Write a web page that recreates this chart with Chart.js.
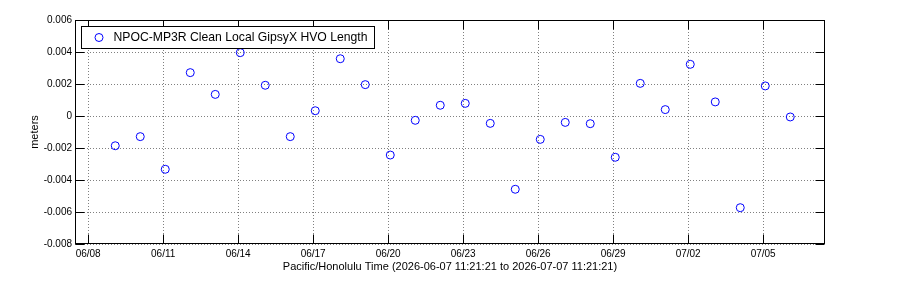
<!DOCTYPE html>
<html>
<head>
<meta charset="utf-8">
<script src="https://cdn.jsdelivr.net/npm/chart.js@4/dist/chart.umd.min.js"></script>
<style>
html,body{margin:0;padding:0;background:#fff;}
#wrap{width:900px;height:300px;position:relative;}
</style>
</head>
<body>
<div id="wrap"><canvas id="c" width="900" height="300"></canvas></div>
<script>
// ---- data ----
const seriesLabel = 'NPOC-MP3R Clean Local GipsyX HVO Length';
const sampleTimes = [
  '2026-06-09 02:00','2026-06-10 02:00','2026-06-11 02:00','2026-06-12 02:00','2026-06-13 02:00',
  '2026-06-14 02:00','2026-06-15 02:00','2026-06-16 02:00','2026-06-17 02:00','2026-06-18 02:00',
  '2026-06-19 02:00','2026-06-20 02:00','2026-06-21 02:00','2026-06-22 02:00','2026-06-23 02:00',
  '2026-06-24 02:00','2026-06-25 02:00','2026-06-26 02:00','2026-06-27 02:00','2026-06-28 02:00',
  '2026-06-29 02:00','2026-06-30 02:00','2026-07-01 02:00','2026-07-02 02:00','2026-07-03 02:00',
  '2026-07-04 02:00','2026-07-05 02:00','2026-07-06 02:00'
];
const lengthValues = [
  -0.00186, -0.00129, -0.00333, 0.00271, 0.00135, 0.00396, 0.00192, -0.00129, 0.00033, 0.00358,
  0.00196, -0.00244, -0.00027, 0.00067, 0.00079, -0.00046, -0.00458, -0.00146, -0.00040, -0.00048,
  -0.00258, 0.00204, 0.00040, 0.00323, 0.00088, -0.00573, 0.00188, -0.00006
];
const xTickLabels = ['06/08','06/11','06/14','06/17','06/20','06/23','06/26','06/29','07/02','07/05'];
const tickYear = 2026;
const rangeStart = '2026-06-07 11:21:21';
const rangeEnd = '2026-07-07 11:21:21';
const yMin = -0.008, yMax = 0.006, yStep = 0.002;
const yTitle = 'meters';
const xTitle = 'Pacific/Honolulu Time (2026-06-07 11:21:21 to 2026-07-07 11:21:21)';

// ---- helpers ----
function toDays(s){
  const m = s.match(/(\d+)-(\d+)-(\d+)(?:\s+(\d+):(\d+)(?::(\d+))?)?/);
  return Date.UTC(+m[1], +m[2]-1, +m[3], +(m[4]||0), +(m[5]||0), +(m[6]||0)) / 86400000;
}
const xTickValues = xTickLabels.map(l => {
  const [mm, dd] = l.split('/');
  return toDays(tickYear + '-' + mm + '-' + dd);
});
const points = sampleTimes.map((t, i) => ({x: toDays(t), y: lengthValues[i]}));

const FONT = '"Liberation Sans", Arial, Helvetica, sans-serif';

const framePlugin = {
  id: 'frame',
  afterDatasetsDraw(chart){
    const ctx = chart.ctx, a = chart.chartArea;
    const xs = chart.scales.x, ys = chart.scales.y;
    const L = Math.round(a.left)+0.5, R = Math.round(a.right)-0.5, T = Math.round(a.top)+0.5, B = Math.round(a.bottom)-0.5;
    ctx.save();
    ctx.strokeStyle = '#000';
    ctx.lineWidth = 1;
    ctx.setLineDash([]);
    const tl = 9;
    ctx.beginPath();
    xs.ticks.forEach(t => {
      const px = Math.round(xs.getPixelForValue(t.value))+0.5;
      ctx.moveTo(px, B); ctx.lineTo(px, B - tl);
      ctx.moveTo(px, T); ctx.lineTo(px, T + tl);
    });
    ys.ticks.forEach(t => {
      const py = Math.round(ys.getPixelForValue(t.value))+0.5;
      ctx.moveTo(L, py); ctx.lineTo(L + tl, py);
      ctx.moveTo(R, py); ctx.lineTo(R - tl, py);
    });
    ctx.stroke();
    ctx.strokeRect(L, T, R - L, B - T);

    // legend box inside plot
    ctx.font = '12.2px ' + FONT;
    const tw = ctx.measureText(seriesLabel).width;
    const bx = Math.round(a.left) + 6.5, by = Math.round(a.top) + 6.5;
    const bw = Math.round(32 + tw + 7), bh = 22;
    ctx.fillStyle = '#fff';
    ctx.fillRect(bx, by, bw, bh);
    ctx.strokeStyle = '#000';
    ctx.strokeRect(bx, by, bw, bh);
    ctx.beginPath();
    ctx.strokeStyle = '#0000ff';
    ctx.arc(bx + 17.5, by + 11, 4, 0, Math.PI*2);
    ctx.stroke();
    ctx.fillStyle = '#000';
    ctx.textBaseline = 'middle';
    ctx.textAlign = 'left';
    ctx.fillText(seriesLabel, bx + 32, by + 11.5);
    ctx.restore();
  }
};

new Chart(document.getElementById('c'), {
  type: 'scatter',
  data: {
    datasets: [{
      label: seriesLabel,
      data: points,
      showLine: false,
      pointStyle: 'circle',
      pointRadius: 4,
      pointHoverRadius: 4,
      borderWidth: 1,
      borderColor: '#0000ff',
      backgroundColor: 'rgba(0,0,0,0)'
    }]
  },
  options: {
    responsive: false,
    animation: false,
    devicePixelRatio: 1,
    layout: { padding: { left: 0, top: 20, right: 75, bottom: 0 } },
    plugins: { legend: { display: false }, tooltip: { enabled: false } },
    scales: {
      x: {
        type: 'linear',
        min: toDays(rangeStart),
        max: toDays(rangeEnd),
        afterBuildTicks(scale){ scale.ticks = xTickValues.map(v => ({value: v})); },
        afterFit(scale){ scale.height = 56; },
        ticks: {
          autoSkip: false,
          maxRotation: 0,
          padding: 4,
          color: '#000',
          font: { family: FONT, size: 10 },
          callback(value){
            const i = xTickValues.findIndex(v => Math.abs(v - value) < 1e-6);
            return i >= 0 ? xTickLabels[i] : '';
          }
        },
        grid: { color: '#808080', lineWidth: 1, drawTicks: false },
        border: { display: false, dash: [1, 2] },
        title: {
          display: true,
          text: xTitle,
          color: '#000',
          font: { family: FONT, size: 11 },
          padding: { top: 0, bottom: 26 }
        }
      },
      y: {
        type: 'linear',
        min: yMin,
        max: yMax,
        afterFit(scale){ scale.width = 75; },
        ticks: {
          stepSize: yStep,
          padding: 3,
          color: '#000',
          font: { family: FONT, size: 10 },
          callback(value){
            if (Math.abs(value) < 1e-9) return '0';
            return value.toFixed(3);
          }
        },
        grid: { color: '#808080', lineWidth: 1, drawTicks: false },
        border: { display: false, dash: [1, 2] },
        title: {
          display: true,
          text: yTitle,
          color: '#000',
          font: { family: FONT, size: 11 },
          padding: { top: 28, bottom: 0 }
        }
      }
    }
  },
  plugins: [framePlugin]
});
</script>
</body>
</html>
